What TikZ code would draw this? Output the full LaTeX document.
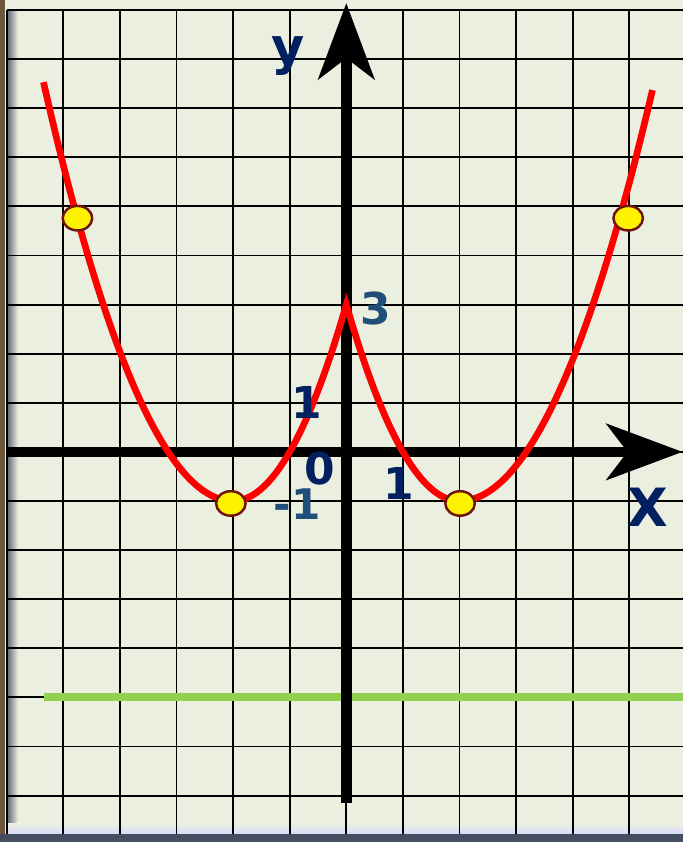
\documentclass[tikz,border=0pt]{standalone}
\usepackage{fontspec}
\setmainfont{DejaVu Sans}
\usepackage{xcolor}
\usetikzlibrary{arrows.meta, shapes.geometric}

\definecolor{paper}{RGB}{235,239,224}
\definecolor{navy}{RGB}{0,32,96}
\definecolor{steel}{RGB}{31,78,121}
\definecolor{leafgreen}{RGB}{146,208,80}
\definecolor{dotrim}{RGB}{110,20,10}
\definecolor{framebrown}{RGB}{108,86,57}
\definecolor{frameslate}{RGB}{70,78,98}

\begin{document}
\begin{tikzpicture}[x=1.132cm, y=0.982cm,
  gridline/.style={line width=1.1pt, black},
  axisline/.style={line width=6pt, -{Stealth[length=1.52cm, width=1.12cm, inset=0.42cm]}},
  graphline/.style={line width=3.8pt, red, line join=miter},
  ptdot/.style={ellipse, draw=dotrim, line width=1.4pt, fill=yellow, minimum width=0.59cm, minimum height=0.49cm, inner sep=0pt},
  numlbl/.style={font=\fontsize{25}{30}\selectfont\bfseries, inner sep=0pt}]
  \useasboundingbox (-6.1184,-7.945) rectangle (5.9488,9.2037);
  \fill[paper] (-6.1184,-7.945) rectangle (5.9488,9.2037);
  \shade[left color=frameslate!80, right color=paper] (-5.977,-7.78) rectangle (-5.80,9);
  \shade[top color=paper, bottom color=white!85!blue] (-6.03,-7.578) rectangle (5.9488,-7.782);

  % squared paper
  \draw[gridline, step={(1,1)}] (-6,-7.78) grid (5.95,9);
  \fill[framebrown] (-6.1184,-7.945) rectangle (-6.03,9.2037);
  \fill[frameslate] (-6.1184,-7.945) rectangle (5.9488,-7.782);

  \draw[line width=4.5pt, leafgreen] (-5.34,-5) -- (5.9488,-5);

  % axes
  \coordinate (xstart) at (-6.01,0);
  \coordinate (xend) at (5.94,0);
  \coordinate (ystart) at (0,-7.145);
  \coordinate (yend) at (0,9.14);
  \draw[axisline] (xstart) -- (xend);
  \draw[axisline] (ystart) -- (yend);

  % graph
  \draw[graphline] plot[domain=-5.35:-2, samples=50] (\x, {0.76*(\x+2)^2-1})
    -- plot[domain=-1.95:0, samples=40] (\x, {(\x+2)^2-1})
    -- plot[domain=0.05:2, samples=40] (\x, {(\x-2)^2-1})
    -- plot[domain=2.05:5.41, samples=50] (\x, {0.72*(\x-2)^2-1});

  \node[ptdot] (ptA) at (-4.75,4.76) {};
  \node[ptdot] (ptB) at (-2.04,-1.05) {};
  \node[ptdot] (ptC) at (2.01,-1.05) {};
  \node[ptdot] (ptD) at (4.98,4.76) {};

  \node[numlbl, navy, font=\fontsize{29}{34}\selectfont\bfseries] (ylbl) at (-1.03,8.06) {y};
  \node[numlbl, navy, font=\fontsize{30}{36}\selectfont\bfseries] (xlbl) at (5.33,-1.13) {X};
  \node[numlbl, steel] (three) at (0.52,2.92) {3};
  \node[numlbl, navy] (oneleft) at (-0.69,1.01) {1};
  \node[numlbl, navy] (zero) at (-0.46,-0.33) {0};
  \node[numlbl, steel, font=\fontsize{24}{29}\selectfont\bfseries] (minusone) at (-0.87,-1.06) {-1};
  \node[numlbl, navy] (oneright) at (0.93,-0.65) {1};
\end{tikzpicture}
\end{document}
